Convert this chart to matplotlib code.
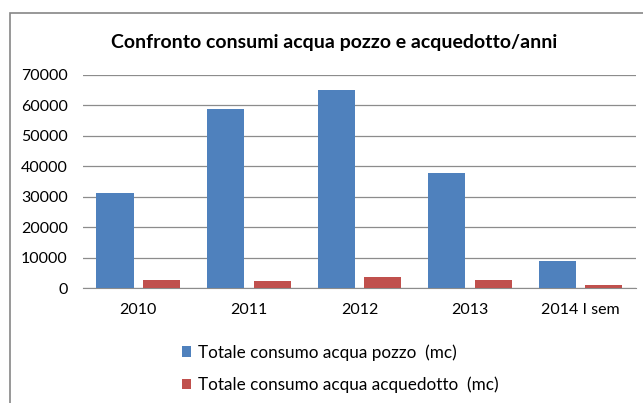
import numpy as np
import matplotlib.pyplot as plt
from matplotlib.patches import Rectangle

# data
anni = ['2010', '2011', '2012', '2013', '2014 I sem']
pozzo = [31200, 58800, 65100, 37800, 8900]
acquedotto = [2700, 2400, 3600, 2700, 1000]

plt.rcParams['font.family'] = ['Lato', 'DejaVu Sans']

fig = plt.figure(figsize=(6.43, 4.03), dpi=100)
ax = fig.add_axes([0.129, 0.285, 0.860, 0.529])

# outer chart frame
fig.patches.append(Rectangle((10/643, -0.05), 1.0, 1 - 13/403 + 0.05,
                             transform=fig.transFigure, fill=False,
                             edgecolor='#868686', linewidth=1.2))

x = np.arange(len(anni))
w = 0.335
ax.bar(x - 0.21, pozzo, w, color='#4F81BD', label='Totale consumo acqua pozzo  (mc)', zorder=3)
ax.bar(x + 0.21, acquedotto, w, color='#C0504D', label='Totale consumo acqua acquedotto  (mc)', zorder=3)

ax.set_xlim(-0.5, len(anni) - 0.5)
ax.set_ylim(0, 70000)
ax.set_yticks(np.arange(0, 70001, 10000))
ax.set_xticks(x)
ax.set_xticklabels(anni)
ax.yaxis.grid(True, color='#8c8c8c', linewidth=0.9, zorder=0)
ax.tick_params(length=0, labelsize=11.5, colors='black')
ax.tick_params(axis='y', pad=11)
ax.tick_params(axis='x', pad=11)
for s in ['top', 'right', 'left']:
    ax.spines[s].set_visible(False)
ax.spines['bottom'].set_color('#8c8c8c')

fig.text(0.52, 0.895, 'Confronto consumi acqua pozzo e acquedotto/anni',
         ha='center', va='center', fontsize=14, fontweight='bold')

ax.legend(loc='upper center', bbox_to_anchor=(0.465, -0.19), frameon=False,
          fontsize=12.3, handlelength=0.55, handleheight=0.55, handletextpad=0.4,
          labelspacing=0.95)

fig.savefig('out.png', dpi=100)
